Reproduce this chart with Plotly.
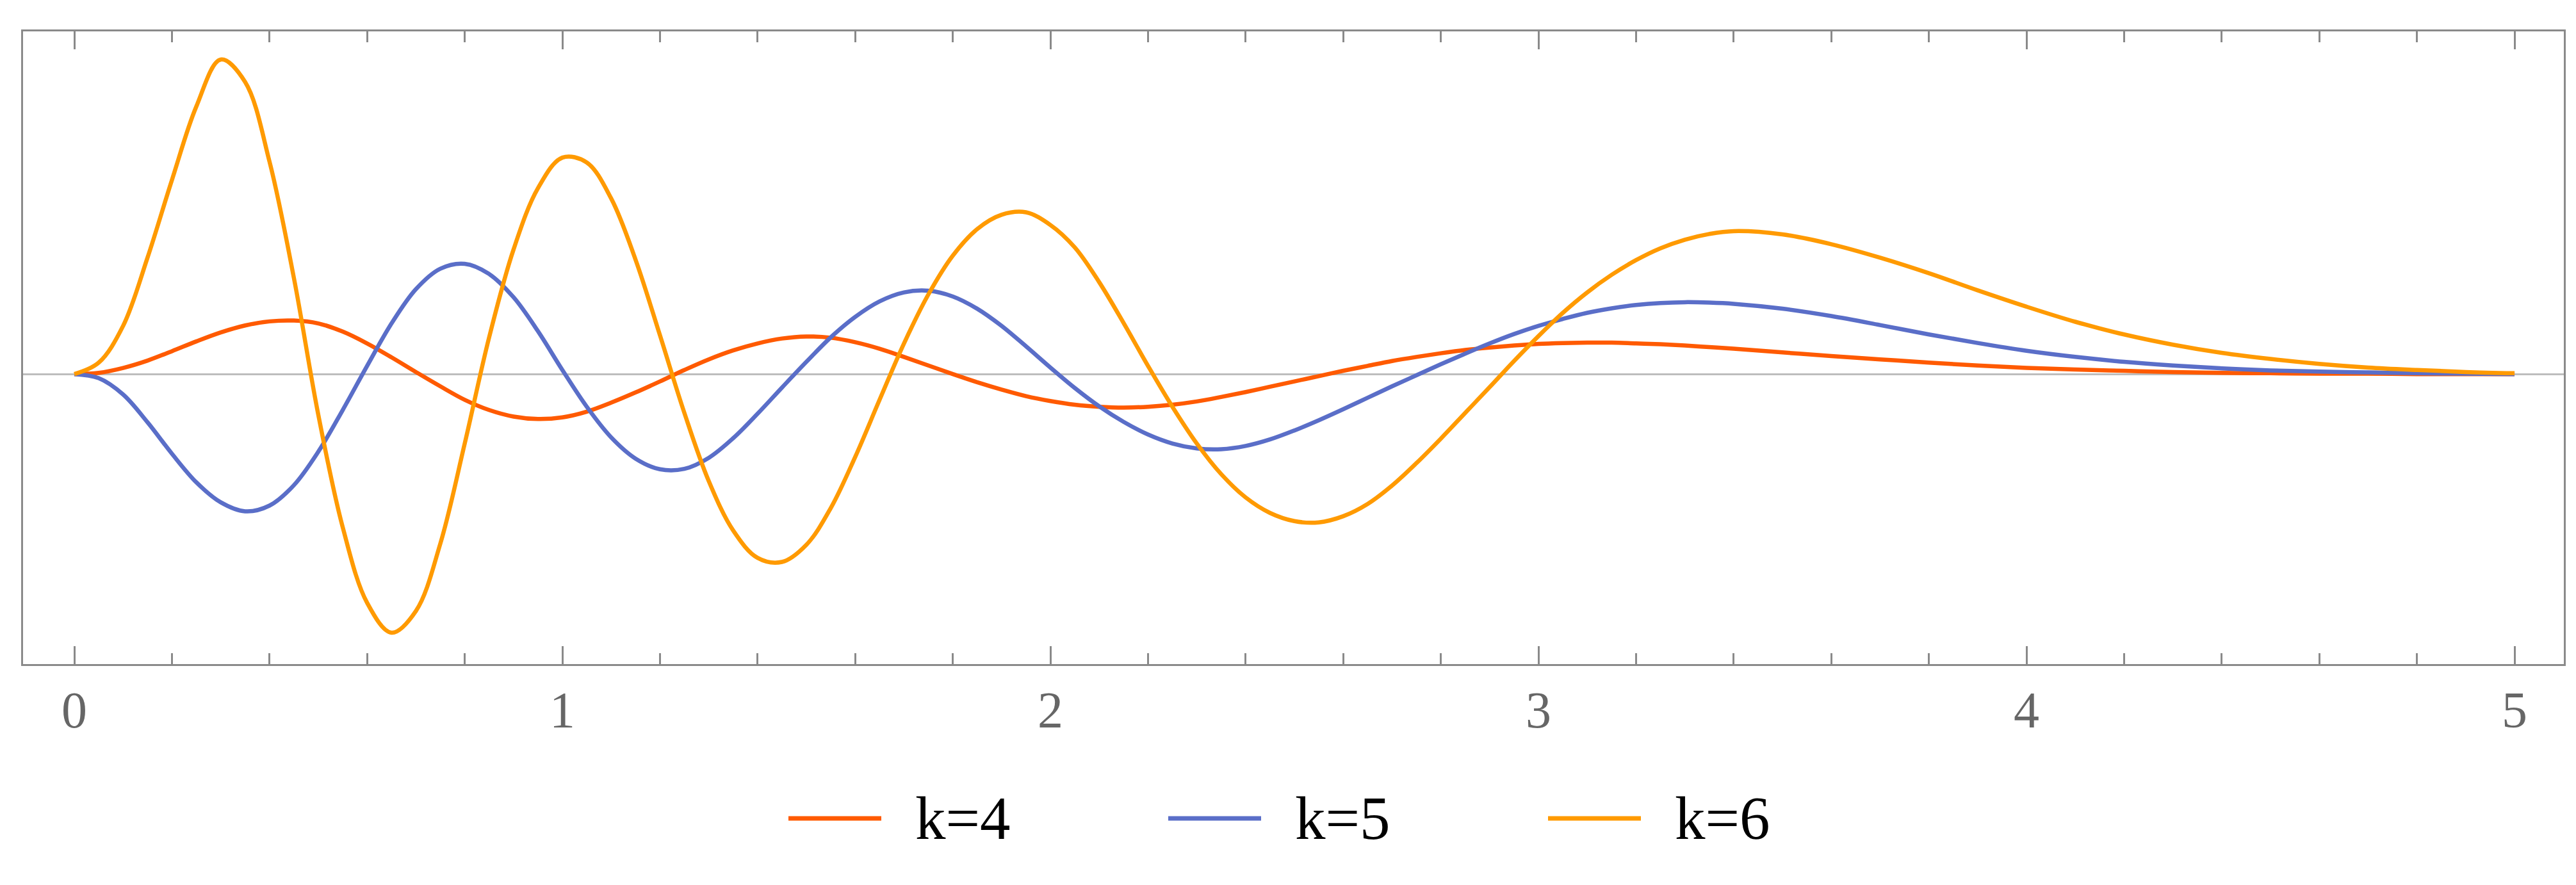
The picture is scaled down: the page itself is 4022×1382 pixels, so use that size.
import plotly.graph_objects as go

# ---------- data ----------
x = [0.00, 0.05, 0.10, 0.15, 0.20, 0.25, 0.30, 0.35, 0.40, 0.45,
     0.50, 0.55, 0.60, 0.65, 0.70, 0.75, 0.80, 0.85, 0.90, 0.95,
     1.00, 1.05, 1.10, 1.15, 1.20, 1.25, 1.30, 1.35, 1.40, 1.45,
     1.50, 1.55, 1.60, 1.65, 1.70, 1.75, 1.80, 1.85, 1.90, 1.95,
     2.00, 2.05, 2.10, 2.15, 2.20, 2.25, 2.30, 2.35, 2.40, 2.45,
     2.50, 2.55, 2.60, 2.65, 2.70, 2.75, 2.80, 2.85, 2.90, 2.95,
     3.00, 3.05, 3.10, 3.15, 3.20, 3.25, 3.30, 3.35, 3.40,
     3.5, 3.6, 3.7, 3.8, 3.9, 4.0, 4.1, 4.2, 4.3, 4.4, 4.5, 4.6, 4.7, 4.8, 4.9, 5.0]

k4 = [0.000, 0.003, 0.015, 0.033, 0.056, 0.080, 0.102, 0.119, 0.129, 0.131,
      0.124, 0.104, 0.075, 0.041, 0.005, -0.030, -0.063, -0.088, -0.104, -0.110,
      -0.106, -0.092, -0.070, -0.045, -0.018, 0.010, 0.036, 0.058, 0.075, 0.087,
      0.092, 0.089, 0.078, 0.062, 0.042, 0.021, 0.000, -0.020, -0.038, -0.054,
      -0.066, -0.075, -0.080, -0.082, -0.080, -0.075, -0.067, -0.056, -0.044, -0.031,
      -0.018, -0.005, 0.008, 0.020, 0.032, 0.042, 0.051, 0.059, 0.065, 0.070,
      0.074, 0.076, 0.077, 0.077, 0.075, 0.073, 0.070, 0.066, 0.062,
      0.053, 0.044, 0.036, 0.028, 0.021, 0.015, 0.011, 0.008, 0.005, 0.003,
      0.002, 0.001, 0.001, 0.000, 0.000, 0.000]

k5 = [0.000, -0.010, -0.050, -0.118, -0.195, -0.265, -0.314, -0.336, -0.322, -0.272,
      -0.190, -0.088, 0.020, 0.124, 0.208, 0.258, 0.270, 0.245, 0.188, 0.105,
      0.010, -0.080, -0.155, -0.207, -0.233, -0.232, -0.205, -0.157, -0.097, -0.033,
      0.030, 0.090, 0.140, 0.178, 0.200, 0.204, 0.190, 0.160, 0.118, 0.068,
      0.016, -0.034, -0.079, -0.117, -0.148, -0.170, -0.182, -0.184, -0.176, -0.160,
      -0.138, -0.113, -0.086, -0.058, -0.030, -0.003, 0.024, 0.050, 0.075, 0.098,
      0.118, 0.135, 0.150, 0.161, 0.169, 0.174, 0.176, 0.175, 0.172,
      0.160, 0.142, 0.120, 0.097, 0.076, 0.057, 0.042, 0.030, 0.021, 0.014,
      0.009, 0.006, 0.004, 0.002, 0.001, 0.000]

k6 = [0.000, 0.028, 0.118, 0.285, 0.475, 0.655, 0.770, 0.715, 0.520, 0.235,
      -0.100, -0.375, -0.560, -0.633, -0.580, -0.415, -0.170, 0.090, 0.305, 0.455,
      0.530, 0.518, 0.430, 0.280, 0.095, -0.095, -0.262, -0.383, -0.450, -0.460,
      -0.418, -0.328, -0.203, -0.063, 0.075, 0.195, 0.290, 0.355, 0.390, 0.396,
      0.365, 0.310, 0.225, 0.125, 0.020, -0.080, -0.170, -0.245, -0.302, -0.340,
      -0.360, -0.363, -0.348, -0.318, -0.273, -0.218, -0.158, -0.095, -0.032, 0.032,
      0.093, 0.150, 0.200, 0.243, 0.279, 0.308, 0.329, 0.343, 0.350,
      0.342, 0.318, 0.285, 0.247, 0.205, 0.165, 0.128, 0.097, 0.072, 0.052,
      0.037, 0.025, 0.016, 0.010, 0.005, 0.002]

names = ["k=4", "k=5", "k=6"]
colors = ["#FF5A00", "#5A6EC8", "#FF9A00"]
tick_vals = [0, 1, 2, 3, 4, 5]
tick_text = ["0", "1", "2", "3", "4", "5"]

# ---------- geometry (pixels) ----------
W, H = 4022, 1382
L, R, T, B = 28, 3995, 41, 1029   # frame edges
FRAME = "#8a8a8a"
SERIF = "Liberation Serif, Times New Roman, serif"

fig = go.Figure()
for ys, nm, col in zip([k4, k5, k6], names, colors):
    fig.add_trace(go.Scatter(x=x, y=ys, mode="lines", name=nm,
                             line=dict(color=col, width=6.5, shape="spline", smoothing=1.0),
                             showlegend=False, hoverinfo="skip"))

fig.update_xaxes(range=[-0.105, 5.101], showgrid=False, zeroline=False,
                 showline=True, linecolor=FRAME, linewidth=3, mirror="ticks",
                 ticks="inside", ticklen=28, tickwidth=3, tickcolor=FRAME,
                 tickmode="array", tickvals=tick_vals, ticktext=tick_text,
                 tickfont=dict(family=SERIF, size=80, color="#666666"),
                 minor=dict(ticks="inside", ticklen=17, tickwidth=3, tickcolor=FRAME,
                            tick0=0, dtick=0.2, showgrid=False))
fig.update_yaxes(range=[-0.710, 0.839], showgrid=False, showticklabels=False,
                 ticks="", showline=True, linecolor=FRAME, linewidth=3, mirror=True,
                 zeroline=True, zerolinecolor="#bdbdbd", zerolinewidth=2.5)

# ---------- legend drawn below the frame ----------
def px2paper(px, py):
    return (px - L) / (R - L), (B - py) / (B - T)

leg_y = 1270
for i, (nm, col) in enumerate(zip(names, colors)):
    x0 = 1223 + 593 * i
    xa, ya = px2paper(x0, leg_y)
    xb, _ = px2paper(x0 + 145, leg_y)
    xt, yt = px2paper(x0 + 196, leg_y)
    fig.add_shape(type="line", xref="paper", yref="paper", x0=xa, x1=xb, y0=ya, y1=ya,
                  line=dict(color=col, width=7))
    fig.add_annotation(xref="paper", yref="paper", x=xt, y=yt, text=nm, showarrow=False,
                       xanchor="left", yanchor="middle",
                       font=dict(family=SERIF, size=95, color="black"))

fig.update_layout(width=W, height=H, autosize=False,
                  margin=dict(l=L, r=W - R, t=T, b=H - B, pad=0),
                  plot_bgcolor="white", paper_bgcolor="white", showlegend=False)

fig.write_html("out.html")
